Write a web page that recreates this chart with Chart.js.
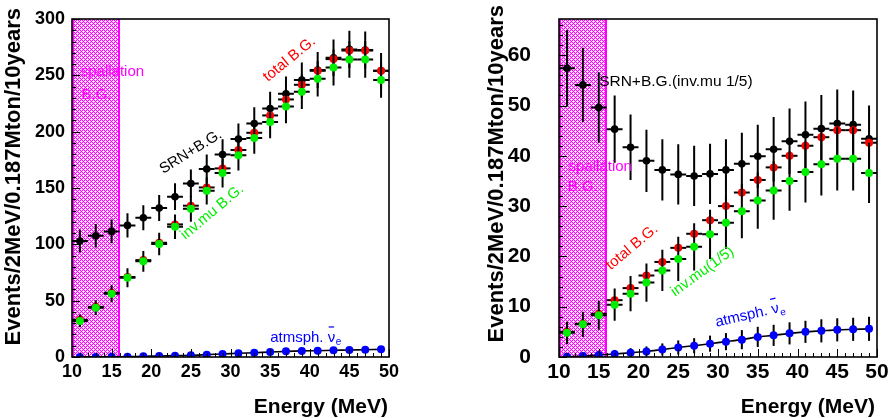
<!DOCTYPE html>
<html><head><meta charset="utf-8">
<script src="https://cdn.jsdelivr.net/npm/chart.js@4.4.0/dist/chart.umd.min.js"></script>
<style>
html,body{margin:0;padding:0;background:#fff;}
#wrap{position:relative;width:889px;height:418px;overflow:hidden;background:#fff;}
.c{position:absolute;top:0;height:418px;}
</style></head><body>
<div id="wrap">
<div class="c" style="left:0;width:445px;"><canvas id="cL"></canvas></div>
<div class="c" style="left:445px;width:444px;"><canvas id="cR"></canvas></div>
</div>
<script>
// ---------------- DATA ----------------
const energies = [11,13,15,17,19,21,23,25,27,29,31,33,35,37,39,41,43,45,47,49];
const binHalfWidth = 1;
const spallationRange = [10, 16];
const xTickValues = [10,15,20,25,30,35,40,45,50];
const leftYTickValues = [0,50,100,150,200,250,300];
const rightYTickValues = [0,10,20,30,40,50,60];

// left panel (inv.mu B.G. full)
const leftSRN      = [103,107.6,111.5,116.8,123.6,132.2,142.3,154,166.8,179.8,193.4,207.3,220.6,233.6,245.8,254.7,265.6,273,272.4,254];
const leftSRNErr   = [10.2,10.4,10.6,10.8,11.1,11.5,11.9,12.4,12.9,13.4,13.9,14.4,14.9,15.3,15.7,16.0,16.3,16.5,16.5,15.9];
const leftTotal    = [33,44.5,57,71,86,101.4,117.7,134.3,150.5,167.4,183.7,199,214.4,228.6,241.6,254,264.4,272,272,254];
const leftInvMu    = [32,43.8,56.2,70.4,84.9,100.3,115.6,131.6,147.5,163.3,179,194.3,208.5,222.4,235.4,247,257,264,264,245.8];
const leftInvMuErr = [5.7,6.6,7.5,8.4,9.2,10.0,10.8,11.5,12.1,12.8,13.4,13.9,14.4,14.9,15.3,15.7,16.0,16.2,16.2,15.7];
const leftAtm      = [0.1,0.1,0.2,0.3,0.6,0.9,1.2,1.5,2.1,2.7,3.3,3.8,4.4,5.0,5.4,5.6,6.0,6.2,6.5,6.8];
const leftAtmErr   = [0.3,0.3,0.4,0.5,0.8,0.9,1.1,1.2,1.4,1.6,1.8,1.9,2.1,2.2,2.3,2.4,2.4,2.5,2.5,2.6];

// right panel (inv.mu 1/5)
const rightSRN      = [57.4,54.1,49.6,45.3,41.7,39.0,37.2,36.3,36.0,36.4,37.2,38.4,39.9,41.3,42.9,44.2,45.4,46.4,46.2,43.4];
const rightSRNErr   = [7.6,7.4,7.0,6.7,6.5,6.2,6.1,6.0,6.0,6.0,6.1,6.2,6.3,6.4,6.5,6.6,6.7,6.8,6.8,6.6];
const rightTotal    = [5.0,6.6,8.6,11.3,13.7,16.2,18.9,21.7,24.5,27.2,30.0,32.7,35.2,37.7,40.0,42.0,43.7,45.1,45.1,42.6];
const rightInvMu    = [4.8,6.5,8.3,10.4,12.6,14.8,17.2,19.5,21.9,24.4,26.7,29.0,31.1,33.1,35.0,36.8,38.3,39.4,39.4,36.6];
const rightInvMuErr = [2.2,2.5,2.9,3.2,3.5,3.8,4.1,4.4,4.7,4.9,5.2,5.4,5.6,5.8,5.9,6.1,6.2,6.3,6.3,6.0];
const rightAtm      = [0.07,0.2,0.4,0.6,0.86,1.1,1.5,1.9,2.25,2.65,3.05,3.45,4.0,4.3,4.7,5.0,5.2,5.4,5.5,5.6];
const rightAtmErr   = [0.3,0.4,0.6,0.8,0.9,1.0,1.2,1.4,1.5,1.6,1.7,1.9,2.0,2.1,2.2,2.2,2.3,2.3,2.3,2.4];

// ---------------- HELPERS ----------------
const FONT = "'Liberation Sans', Arial, Helvetica, sans-serif";

function pts(vals, yErr, xErr) {
  return energies.map((e, i) => ({ x: e, y: vals[i], xe: xErr ? binHalfWidth : 0, ye: yErr ? yErr[i] : 0 }));
}

const errPlugin = {
  id: 'errbars',
  beforeDatasetDraw(chart, args) {
    const ds = chart.data.datasets[args.index];
    const xs = chart.scales.x, ys = chart.scales.y, ctx = chart.ctx, a = chart.chartArea;
    ctx.save();
    ctx.beginPath(); ctx.rect(a.left, a.top, a.right - a.left, a.bottom - a.top); ctx.clip();
    ctx.strokeStyle = '#000'; ctx.lineWidth = 2;
    ds.data.forEach(p => {
      const px = xs.getPixelForValue(p.x), py = ys.getPixelForValue(p.y);
      ctx.beginPath();
      if (p.xe) {
        ctx.moveTo(xs.getPixelForValue(p.x - p.xe), py);
        ctx.lineTo(xs.getPixelForValue(p.x + p.xe), py);
      }
      if (p.ye) {
        ctx.moveTo(px, ys.getPixelForValue(p.y - p.ye));
        ctx.lineTo(px, ys.getPixelForValue(p.y + p.ye));
      }
      ctx.stroke();
    });
    ctx.restore();
  }
};

const bgPlugin = {
  id: 'bgHatch',
  beforeDatasetsDraw(chart) {
    const xs = chart.scales.x, a = chart.chartArea, ctx = chart.ctx;
    const off = Math.round(chart.canvas.parentNode.offsetLeft);
    const x1 = Math.round(xs.getPixelForValue(spallationRange[0])), x2 = Math.round(xs.getPixelForValue(spallationRange[1]));
    const y1 = Math.round(a.top), y2 = Math.round(a.bottom);
    ctx.save();
    ctx.fillStyle = '#ff00ff';
    ctx.fillRect(x1, y1, x2 - x1, y2 - y1);
    ctx.fillStyle = '#ffc4ff';
    for (let y = y1; y < y2; y++) {
      for (let x = x1 + 2; x < x2 - 2; x++) {
        const gx = x + off;
        if ((gx + y) % 2 === 1) ctx.fillRect(x, y, 1, 1);
      }
    }
    ctx.fillStyle = '#ffffff';
    for (let y = y1; y < y2; y++) {
      for (let x = x1 + 2; x < x2 - 2; x++) {
        const gx = x + off;
        if (gx % 2 === 1 && y % 2 === 1 && ((gx - y) % 4 + 4) % 4 === 0) ctx.fillRect(x, y, 1, 1);
      }
    }
    ctx.restore();
  }
};

function drawText(chart, txt, E, v, angle, color, size) {
  const ctx = chart.ctx;
  const px = chart.scales.x.getPixelForValue(E), py = chart.scales.y.getPixelForValue(v);
  ctx.save();
  ctx.translate(px, py); ctx.rotate(-angle * Math.PI / 180);
  ctx.font = size + 'px ' + FONT; ctx.fillStyle = color;
  ctx.textAlign = 'left'; ctx.textBaseline = 'alphabetic';
  ctx.fillText(txt, 0, 0);
  ctx.restore();
}

function drawAtm(chart, E, v, angle, size) {
  const ctx = chart.ctx;
  const px = chart.scales.x.getPixelForValue(E), py = chart.scales.y.getPixelForValue(v);
  ctx.save();
  ctx.translate(px, py); ctx.rotate(-angle * Math.PI / 180);
  ctx.font = size + 'px ' + FONT; ctx.fillStyle = '#0000ff'; ctx.strokeStyle = '#0000ff';
  ctx.textBaseline = 'alphabetic';
  const t1 = 'atmsph. ';
  ctx.fillText(t1, 0, 0);
  let x = ctx.measureText(t1).width;
  ctx.fillText('\u03bd', x, 0);
  const nw = ctx.measureText('\u03bd').width;
  ctx.lineWidth = 1.2;
  ctx.beginPath(); ctx.moveTo(x + 1, -size * 0.98); ctx.lineTo(x + nw - 1, -size * 0.98); ctx.stroke();
  ctx.font = Math.round(size * 0.68) + 'px ' + FONT;
  ctx.fillText('e', x + nw + 0.5, size * 0.25);
  ctx.restore();
}

function framePlugin(cfg) {
  return {
    id: 'frame',
    afterDraw(chart) {
      const ctx = chart.ctx, a = chart.chartArea, xs = chart.scales.x, ys = chart.scales.y;
      ctx.save();
      ctx.strokeStyle = '#000'; ctx.lineWidth = 1;
      ctx.beginPath();
      for (let v = xs.min; v <= xs.max + 1e-9; v += cfg.xMinor) {
        const p = Math.round(xs.getPixelForValue(v)) + 0.5;
        const major = xTickValues.includes(Math.round(v * 1000) / 1000);
        ctx.moveTo(p, a.bottom); ctx.lineTo(p, a.bottom - (major ? cfg.majorLen : cfg.minorLen));
      }
      for (let v = ys.min; v <= ys.max + 1e-9; v += cfg.yMinor) {
        const p = Math.round(ys.getPixelForValue(v)) + 0.5;
        const major = cfg.yTicks.includes(Math.round(v * 1000) / 1000);
        ctx.moveTo(a.left, p); ctx.lineTo(a.left + (major ? cfg.majorLen : cfg.minorLen), p);
      }
      ctx.stroke();
      ctx.lineWidth = 1.6;
      ctx.strokeRect(a.left, a.top, a.right - a.left, a.bottom - a.top);
      cfg.labels(chart);
      ctx.fillStyle = '#000';
      ctx.font = 'bold 21px ' + FONT;
      ctx.textAlign = 'right'; ctx.textBaseline = 'alphabetic';
      ctx.fillText('Energy (MeV)', cfg.xTitleX, cfg.xTitleY);
      ctx.save();
      ctx.translate(cfg.yTitleX, cfg.yTitleY); ctx.rotate(-Math.PI / 2);
      ctx.font = 'bold 22px ' + FONT; ctx.textAlign = 'right'; ctx.textBaseline = 'middle';
      ctx.fillText('Events/2MeV/0.187Mton/10years', 0, 0);
      ctx.restore();
      ctx.restore();
    }
  };
}

function makeChart(id, o) {
  const datasets = [
    { label: o.names[0], data: pts(o.srn, o.srnErr, true), order: 3, showLine: false,
      pointRadius: 3.8, pointBackgroundColor: '#000', pointBorderColor: '#000', pointBorderWidth: 0 },
    { label: o.names[1], data: pts(o.total, null, true), order: 2, showLine: false,
      pointRadius: 4, pointBackgroundColor: '#ff0000', pointBorderColor: '#ff0000', pointBorderWidth: 0 },
    { label: o.names[2], data: pts(o.inv, o.invErr, true), order: 1, showLine: false,
      pointRadius: 4, pointBackgroundColor: '#00ee00', pointBorderColor: '#00ee00', pointBorderWidth: 0 },
    { label: o.names[3], data: pts(o.atm, o.atmErr, false), order: 0, showLine: true,
      borderColor: '#000', borderWidth: 1.6, tension: 0.3, fill: false,
      pointRadius: 4, pointBackgroundColor: '#0000ff', pointBorderColor: '#0000ff', pointBorderWidth: 0 }
  ];
  return new Chart(document.getElementById(id), {
    type: 'scatter',
    data: { datasets },
    options: {
      responsive: true, maintainAspectRatio: false, animation: false,
      devicePixelRatio: 1,
      layout: { padding: { left: 0, right: o.padRight, top: 19, bottom: 0 } },
      plugins: { legend: { display: false }, tooltip: { enabled: false } },
      elements: { point: { hoverRadius: 4 } },
      scales: {
        x: {
          type: 'linear', min: 10, max: 50,
          grid: { display: false, drawTicks: false }, border: { display: false },
          ticks: { color: '#000', font: { family: FONT, weight: 'bold', size: o.xFont }, padding: o.xPad, maxRotation: 0, autoSkip: false, includeBounds: false },
          afterBuildTicks: s => { s.ticks = xTickValues.map(v => ({ value: v })); },
          afterFit: s => { s.height = 61; s.paddingLeft = 0; s.paddingRight = 0; }
        },
        y: {
          type: 'linear', min: 0, max: o.yMax,
          grid: { display: false, drawTicks: false }, border: { display: false },
          ticks: { color: '#000', font: { family: FONT, weight: 'bold', size: o.yFont }, padding: o.yPad, autoSkip: false, includeBounds: false },
          afterBuildTicks: s => { s.ticks = o.yTicks.map(v => ({ value: v })); },
          afterFit: s => { s.width = o.yWidth; s.paddingTop = 0; s.paddingBottom = 0; }
        }
      }
    },
    plugins: [bgPlugin, errPlugin, framePlugin(o.frame)]
  });
}

makeChart('cL', {
  names: ['SRN+B.G.', 'total B.G.', 'inv.mu B.G.', 'atmsph. nu_e bar'],
  srn: leftSRN, srnErr: leftSRNErr, total: leftTotal, inv: leftInvMu, invErr: leftInvMuErr,
  atm: leftAtm, atmErr: leftAtmErr,
  yMax: 300, yTicks: leftYTickValues, yWidth: 72, padRight: 56,
  xFont: 18, yFont: 18, xPad: 4, yPad: 7,
  frame: {
    xMinor: 1, yMinor: 10, majorLen: 8, minorLen: 4, yTicks: leftYTickValues,
    xTitleX: 388, xTitleY: 413, yTitleX: 14, yTitleY: 8,
    labels: ch => {
      drawText(ch, 'spallation', 11.1, 249.5, 0, '#ff00ff', 15);
      drawText(ch, 'B.G.', 11.2, 229, 0, '#ff00ff', 15);
      drawText(ch, 'total B.G.', 34.7, 244, 39, '#ff0000', 15);
      drawText(ch, 'SRN+B.G.', 21.5, 162.4, 32, '#000000', 15);
      drawText(ch, 'inv.mu B.G.', 24.3, 103.8, 40, '#00ee00', 15);
      drawAtm(ch, 35, 13.6, 0, 15);
    }
  }
});

makeChart('cR', {
  names: ['SRN+B.G.(inv.mu 1/5)', 'total B.G.', 'inv.mu(1/5)', 'atmsph. nu_e bar'],
  srn: rightSRN, srnErr: rightSRNErr, total: rightTotal, inv: rightInvMu, invErr: rightInvMuErr,
  atm: rightAtm, atmErr: rightAtmErr,
  yMax: 67.2, yTicks: rightYTickValues, yWidth: 114, padRight: 12,
  xFont: 21, yFont: 21, xPad: 3, yPad: 28,
  frame: {
    xMinor: 1, yMinor: 2, majorLen: 8, minorLen: 4, yTicks: rightYTickValues,
    xTitleX: 430, xTitleY: 413, yTitleX: 52, yTitleY: 5,
    labels: ch => {
      drawText(ch, 'SRN+B.G.(inv.mu 1/5)', 15.05, 53.9, 0, '#000000', 15.5);
      drawText(ch, 'spallation', 11.2, 37.0, 0, '#ff00ff', 15);
      drawText(ch, 'B.G.', 11.1, 33.1, 0, '#ff00ff', 15);
      drawText(ch, 'total B.G.', 16.5, 17.2, 40, '#ff0000', 15);
      drawText(ch, 'inv.mu(1/5)', 24.6, 12.0, 36, '#00ee00', 15);
      drawAtm(ch, 29.8, 6.0, 13, 15);
    }
  }
});
</script>
</body></html>
